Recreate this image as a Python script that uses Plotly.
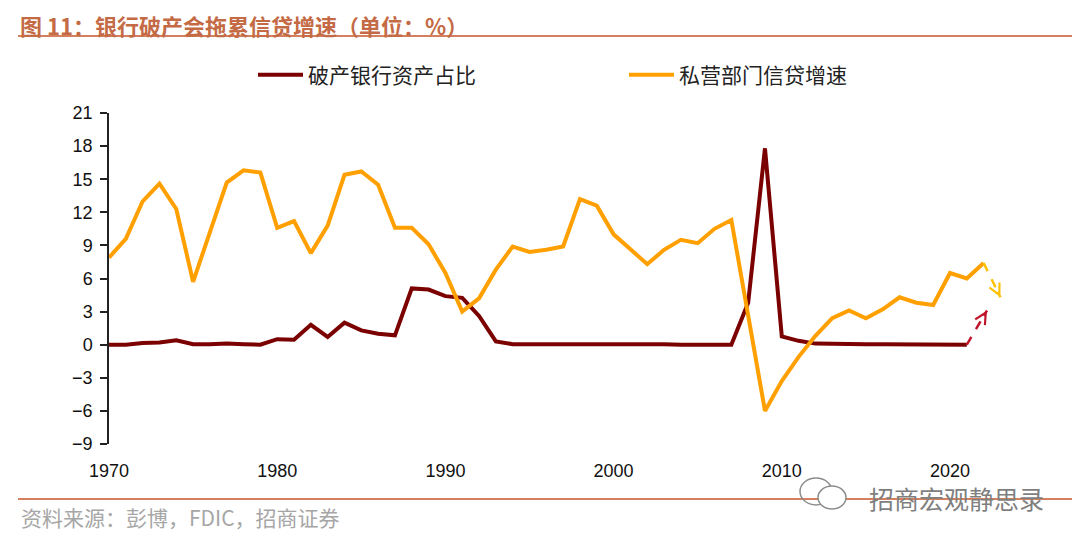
import plotly.graph_objects as go

# ---------------- data ----------------
years_credit = list(range(1970, 2023))
credit_growth = [7.9, 9.6, 13.0, 14.6, 12.3, 5.7, 10.2, 14.7, 15.8, 15.6,
                 10.6, 11.2, 8.3, 10.8, 15.4, 15.7, 14.5, 10.6, 10.6, 9.1,
                 6.5, 3.0, 4.2, 6.8, 8.9, 8.4, 8.6, 8.9, 13.2, 12.6,
                 10.0, 8.6, 7.3, 8.6, 9.5, 9.2, 10.5, 11.3, 2.6, -6.0,
                 -3.3, -1.1, 0.8, 2.4, 3.1, 2.4, 3.2, 4.3, 3.8, 3.6,
                 6.5, 6.0, 7.4]

years_failed = list(range(1970, 2022))
failed_assets = [0.0, 0.0, 0.15, 0.2, 0.4, 0.05, 0.05, 0.1, 0.05, 0.0,
                 0.5, 0.45, 1.8, 0.7, 2.0, 1.3, 1.0, 0.85, 5.1, 5.0,
                 4.4, 4.25, 2.6, 0.3, 0.05, 0.03, 0.03, 0.02, 0.02, 0.03,
                 0.03, 0.05, 0.05, 0.05, 0.0, 0.0, 0.0, 0.0, 3.8, 17.8,
                 0.75, 0.35, 0.1, 0.05, 0.05, 0.03, 0.03, 0.02, 0.02, 0.02,
                 0.02, 0.0]

# projected direction arrows (start point = last value, end = arrow tip)
failed_arrow_x = [2021, 2022.2]
failed_arrow_y = [0.0, 3.1]
credit_arrow_x = [2022, 2023.0]
credit_arrow_y = [7.4, 4.3]

name_failed = "破产银行资产占比"
name_credit = "私营部门信贷增速"
title_text = "图 11：银行破产会拖累信贷增速（单位：%）"
source_text = "资料来源：彭博，FDIC，招商证券"
watermark_text = "招商宏观静思录"

y_range = [-9, 21]
y_dtick = 3
x_axis_range = [1970, 2022]
x_dtick = 10

# ---------------- layout geometry ----------------
# the page body has an 8px margin, so the figure is laid out 8px smaller
OFF = 8
VIEW_W, VIEW_H = 1080, 543
FIG_W, FIG_H = VIEW_W - OFF, VIEW_H - OFF
L, R_EDGE, T, B = 109 - OFF, 1010 - OFF, 113 - OFF, 444 - OFF
W, H = R_EDGE - L, B - T
PX_PER_YEAR = 16.82
x_full_range = [x_axis_range[0], x_axis_range[0] + W / PX_PER_YEAR]
axis_dom_end = (x_axis_range[1] - x_axis_range[0]) * PX_PER_YEAR / W


def pxx(px):
    """screen x pixel -> paper x"""
    return (px - OFF - L) / W


def pxy(py):
    """screen y pixel -> paper y"""
    return (B - (py - OFF)) / H


RED = "#7B0000"
ORANGE = "#FFA000"
RED_ARROW = "#C0142A"
ORANGE_ARROW = "#FFC000"
TITLE_COLOR = "#C46A45"
RULE_COLOR = "#D4805E"
NUM_FONT = "Liberation Sans, Arial, sans-serif"
CJK_FONT = "Noto Sans CJK SC, sans-serif"

fig = go.Figure()

fig.add_trace(go.Scatter(x=years_failed, y=failed_assets, mode="lines",
                         name=name_failed, xaxis="x3", yaxis="y",
                         line=dict(color=RED, width=4)))
fig.add_trace(go.Scatter(x=years_credit, y=credit_growth, mode="lines",
                         name=name_credit, xaxis="x3", yaxis="y",
                         line=dict(color=ORANGE, width=4)))

# dashed projection lines
fig.add_trace(go.Scatter(x=failed_arrow_x, y=failed_arrow_y, mode="lines",
                         showlegend=False, xaxis="x3", yaxis="y",
                         hoverinfo="skip",
                         line=dict(color=RED_ARROW, width=2.5, dash="dash")))
fig.add_trace(go.Scatter(x=credit_arrow_x, y=credit_arrow_y, mode="lines",
                         showlegend=False, xaxis="x3", yaxis="y",
                         hoverinfo="skip",
                         line=dict(color=ORANGE_ARROW, width=2.5, dash="dash")))

# invisible helper traces so that the axis at y=0 and the label axis are drawn
fig.add_trace(go.Scatter(x=x_axis_range, y=[0, 0], mode="lines",
                         xaxis="x", yaxis="y", showlegend=False,
                         hoverinfo="skip", line=dict(width=0)))
fig.add_trace(go.Scatter(x=x_axis_range, y=[0, 0], mode="lines",
                         xaxis="x2", yaxis="y", showlegend=False,
                         hoverinfo="skip", line=dict(width=0)))

annotations = []
for ax_, ay_, col in ((failed_arrow_x, failed_arrow_y, RED_ARROW),
                      (credit_arrow_x, credit_arrow_y, ORANGE_ARROW)):
    tipx, tipy = ax_[1], ay_[1]
    tailx = tipx - 0.2 * (ax_[1] - ax_[0])
    taily = tipy - 0.2 * (ay_[1] - ay_[0])
    annotations.append(dict(x=tipx, y=tipy, xref="x3", yref="y",
                            ax=tailx, ay=taily, axref="x3", ayref="y",
                            text="", showarrow=True, arrowhead=5,
                            arrowwidth=2.2, arrowsize=1.0, arrowcolor=col,
                            standoff=0))

annotations += [
    dict(x=pxx(19), y=pxy(OFF), xref="paper", yref="paper", xanchor="left",
         yanchor="top", showarrow=False, borderpad=0,
         text="<b>" + title_text + "</b>",
         font=dict(family=CJK_FONT, size=22, color=TITLE_COLOR)),
    dict(x=pxx(19), y=pxy(517), xref="paper", yref="paper", xanchor="left",
         yanchor="middle", showarrow=False, text=source_text,
         font=dict(family=CJK_FONT, size=21, color="#A6A6A6")),
    dict(x=pxx(1045), y=pxy(498), xref="paper", yref="paper", xanchor="right",
         yanchor="middle", showarrow=False, borderpad=0, text=watermark_text,
         font=dict(family=CJK_FONT, size=25, color="#7F7F7F")),
]

shapes = [
    dict(type="line", xref="paper", yref="paper", x0=pxx(18), x1=pxx(VIEW_W),
         y0=pxy(36), y1=pxy(36), line=dict(color=RULE_COLOR, width=2)),
    dict(type="line", xref="paper", yref="paper", x0=pxx(18), x1=pxx(VIEW_W),
         y0=pxy(499), y1=pxy(499), line=dict(color=RULE_COLOR, width=2)),
    # simple WeChat-like bubble outlines next to the watermark
    dict(type="circle", xref="paper", yref="paper", x0=pxx(800), x1=pxx(832),
         y0=pxy(505), y1=pxy(478), line=dict(color="#8C8C8C", width=1.5)),
    dict(type="circle", xref="paper", yref="paper", x0=pxx(818), x1=pxx(846),
         y0=pxy(509), y1=pxy(486), fillcolor="white",
         line=dict(color="#8C8C8C", width=1.5)),
]

zero_pos = (0 - y_range[0]) / (y_range[1] - y_range[0])

fig.update_layout(
    width=FIG_W, height=FIG_H,
    margin=dict(l=L, r=FIG_W - R_EDGE, t=T, b=FIG_H - B, pad=0,
                autoexpand=False),
    paper_bgcolor="white", plot_bgcolor="white",
    showlegend=True,
    legend=dict(orientation="h", xref="container", yref="container",
                x=(253 - OFF) / FIG_W, y=1 - (75 - OFF) / FIG_H,
                xanchor="left", yanchor="middle", entrywidth=311,
                itemwidth=45,
                font=dict(family=CJK_FONT, size=21, color="#222222"),
                bgcolor="rgba(0,0,0,0)"),
    xaxis=dict(domain=[0, axis_dom_end], range=x_axis_range, anchor="free",
               position=zero_pos, showline=True, linecolor="#222222",
               linewidth=1.5, ticks="outside", ticklen=8, tickwidth=1.5,
               tickcolor="#222222", tick0=x_axis_range[0], dtick=x_dtick,
               showticklabels=False, showgrid=False, zeroline=False,
               automargin=False, layer="above traces"),
    xaxis2=dict(domain=[0, axis_dom_end], range=x_axis_range, anchor="y",
                side="bottom", showline=False, ticks="outside", ticklen=10,
                tickcolor="rgba(0,0,0,0)", tick0=x_axis_range[0],
                dtick=x_dtick, showgrid=False, zeroline=False,
                automargin=False,
                tickfont=dict(family=NUM_FONT, size=18, color="#111111")),
    xaxis3=dict(domain=[0, 1], range=x_full_range, anchor="y", visible=False,
                showgrid=False, zeroline=False),
    yaxis=dict(domain=[0, 1], range=y_range, dtick=y_dtick, tick0=0,
               anchor="x", showline=True, linecolor="#222222", linewidth=1.5,
               ticks="outside", ticklen=7, tickwidth=1.5, tickcolor="#222222",
               showgrid=False, zeroline=False, ticklabelstandoff=4,
               automargin=False,
               tickfont=dict(family=NUM_FONT, size=18, color="#111111")),
    annotations=annotations,
    shapes=shapes,
)

fig.write_html("out.html")
